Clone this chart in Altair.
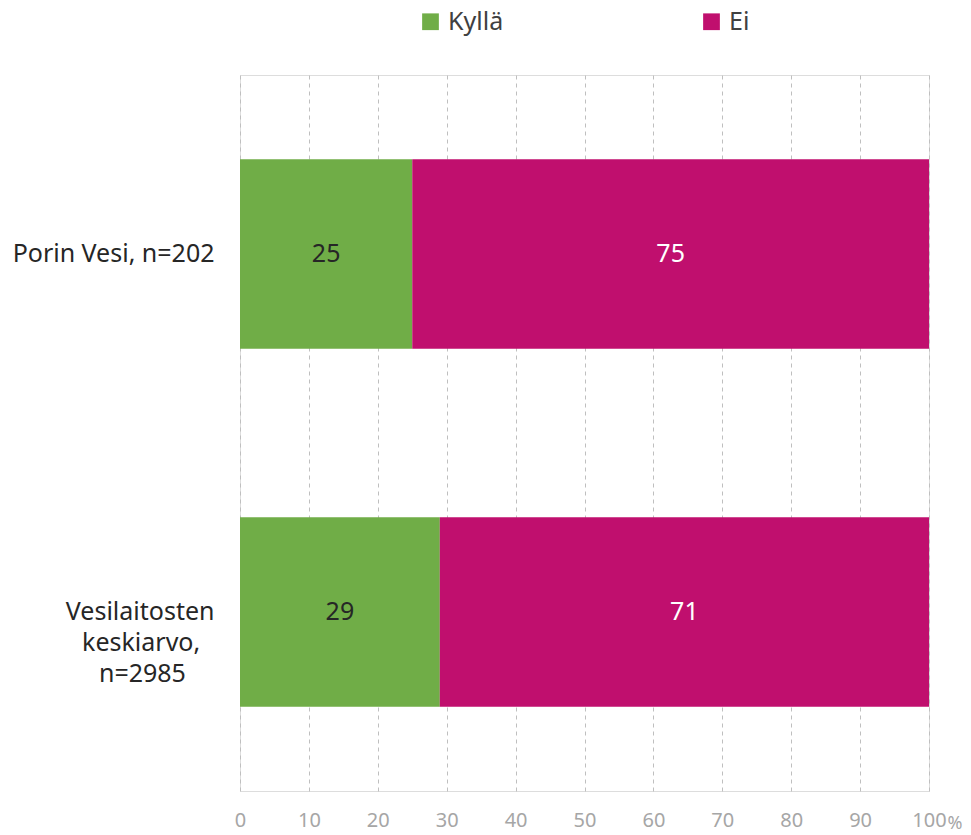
import altair as alt
import pandas as pd

categories = ["Porin Vesi, n=202", "Vesilaitosten keskiarvo, n=2985"]
series = ["Kyllä", "Ei"]
kylla = [25, 29]
ei = [75, 71]
colors = ["#70AD47", "#C00F6E"]
text_colors = ["#262626", "#FFFFFF"]
x_ticks = list(range(0, 101, 10))

rows = []
for i, c in enumerate(categories):
    rows.append({"cat": c, "series": series[0], "value": kylla[i], "order": 0})
    rows.append({"cat": c, "series": series[1], "value": ei[i], "order": 1})
df = pd.DataFrame(rows)

FONT = "Noto Sans"

# trailing figure spaces (kept by a zero-width space) centre the wrapped lines
label_expr = (
    "datum.value == 'Vesilaitosten keskiarvo, n=2985' ? "
    "['Vesilaitosten', 'keskiarvo,\u2007\u200b', 'n=2985\u2007\u2007\u200b'] : datum.label"
)

y_enc = alt.Y(
    "cat:N",
    sort=categories,
    title=None,
    scale=alt.Scale(paddingInner=0.47, paddingOuter=0.235),
    axis=alt.Axis(
        labelExpr=label_expr,
        labelFontSize=25,
        labelFont=FONT,
        labelColor="#262626",
        labelPadding=26,
        ticks=False,
        domain=False,
        labelLineHeight=31,
        labelLimit=300,
    ),
)

bars = alt.Chart(df).mark_bar().encode(
    x=alt.X(
        "value:Q",
        stack="zero",
        scale=alt.Scale(domain=[0, 100], nice=False),
        title="%",
        axis=alt.Axis(
            values=x_ticks,
            labelFontSize=20,
            labelFont=FONT,
            labelColor="#A6A6A6",
            labelPadding=19,
            labelFlush=False,
            ticks=False,
            domain=False,
            grid=True,
            gridDash=[4, 4],
            gridColor="#BFBFBF",
            gridWidth=1,
            titleFont=FONT,
            titleFontSize=18,
            titleFontWeight="normal",
            titleColor="#A6A6A6",
            titleX=722,
            titleY=37,
            titleAlign="right",
            titleBaseline="alphabetic",
        ),
    ),
    y=y_enc,
    color=alt.Color(
        "series:N",
        sort=series,
        scale=alt.Scale(domain=series, range=colors),
        legend=alt.Legend(
            title=None,
            orient="none",
            direction="horizontal",
            legendX=178,
            legendY=-66,
            symbolType="square",
            symbolSize=280,
            symbolStrokeWidth=0,
            symbolOpacity=1,
            labelFontSize=25,
            labelFont=FONT,
            labelColor="#404040",
            columnPadding=195,
            labelOffset=5,
        ),
    ),
    order=alt.Order("order:Q"),
)

labels = (
    alt.Chart(df)
    .transform_stack(stack="value", groupby=["cat"], as_=["x0", "x1"], sort=[alt.SortField("order")])
    .transform_calculate(mid="(datum.x0 + datum.x1) / 2")
    .mark_text(fontSize=25, font=FONT)
    .encode(
        x=alt.X("mid:Q"),
        y=alt.Y("cat:N", sort=categories),
        text=alt.Text("value:Q"),
        color=alt.Color("series:N", scale=alt.Scale(domain=series, range=text_colors), legend=None),
    )
)

chart = (
    alt.layer(bars, labels)
    .resolve_scale(color="independent")
    .properties(
        width=689,
        height=716,
        autosize=alt.AutoSizeParams(type="none"),
        padding={"left": 232, "top": 67, "right": 34, "bottom": 44},
    )
    .configure_view(stroke=None)
    .configure(background="white")
)

chart.save("out.html", embed_options={"renderer": "svg", "actions": False})
